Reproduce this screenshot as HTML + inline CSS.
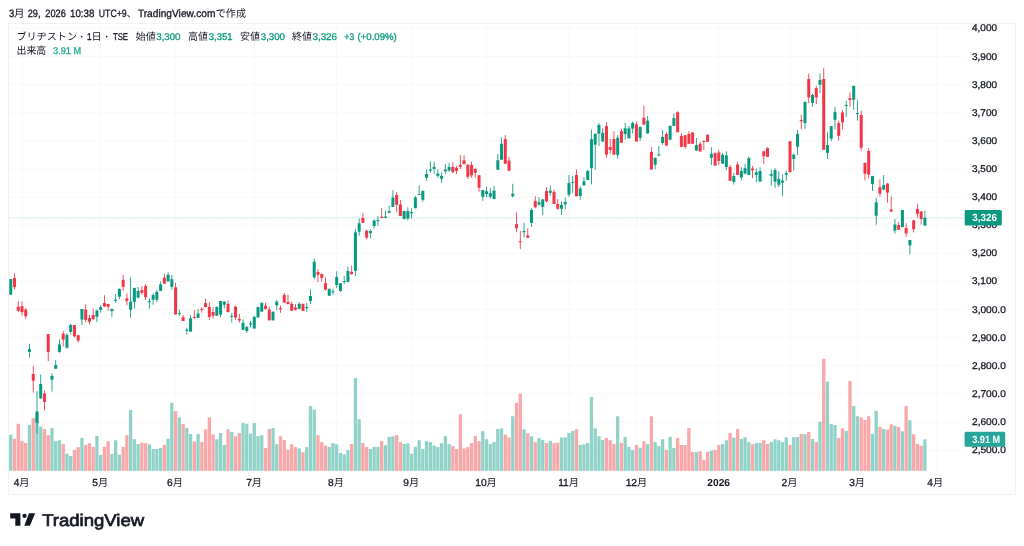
<!DOCTYPE html>
<html lang="ja"><head><meta charset="utf-8"><title>ブリヂストン チャート</title>
<style>
html,body{margin:0;padding:0;background:#fff;}
body{width:1024px;height:546px;overflow:hidden;position:relative;font-family:"Liberation Sans","Noto Sans CJK JP",sans-serif;color:#131722;}
svg{position:absolute;left:0;top:0;will-change:transform;}
text{font-family:"Liberation Sans","Noto Sans CJK JP",sans-serif;stroke-width:0.3px;text-rendering:geometricPrecision;}
</style></head><body>
<svg width="1024" height="546" viewBox="0 0 1024 546">
<rect x="0" y="0" width="1024" height="546" fill="#fff"/>
<rect x="8.5" y="23.5" width="1007" height="471" fill="none" stroke="#f2f2f4" stroke-width="1"/>
<g stroke="#f8f8f9" stroke-width="1" fill="none"><path d="M9 450.20H964"/><path d="M9 422.09H964"/><path d="M9 393.98H964"/><path d="M9 365.87H964"/><path d="M9 337.76H964"/><path d="M9 309.65H964"/><path d="M9 281.54H964"/><path d="M9 253.43H964"/><path d="M9 225.32H964"/><path d="M9 197.21H964"/><path d="M9 169.10H964"/><path d="M9 140.99H964"/><path d="M9 112.88H964"/><path d="M9 84.77H964"/><path d="M9 56.66H964"/><path d="M9 28.55H964"/><path d="M22.50 24V470"/><path d="M100.60 24V470"/><path d="M175.30 24V470"/><path d="M254.20 24V470"/><path d="M336.40 24V470"/><path d="M411.75 24V470"/><path d="M486.50 24V470"/><path d="M569.30 24V470"/><path d="M636.90 24V470"/><path d="M718.50 24V470"/><path d="M790.40 24V470"/><path d="M857.40 24V470"/><path d="M936.90 24V470"/></g>
<g><rect x="9.10" y="434.62" width="3.3" height="36.18" fill="#90d2c7"/><rect x="12.85" y="438.75" width="3.3" height="32.05" fill="#f9a7a9"/><rect x="16.59" y="423.75" width="3.3" height="47.05" fill="#f9a7a9"/><rect x="20.34" y="440.88" width="3.3" height="29.93" fill="#f9a7a9"/><rect x="24.09" y="443.00" width="3.3" height="27.80" fill="#f9a7a9"/><rect x="27.83" y="424.88" width="3.3" height="45.93" fill="#90d2c7"/><rect x="31.58" y="418.00" width="3.3" height="52.80" fill="#f9a7a9"/><rect x="35.33" y="414.00" width="3.3" height="56.80" fill="#90d2c7"/><rect x="39.07" y="426.75" width="3.3" height="44.05" fill="#90d2c7"/><rect x="42.82" y="429.00" width="3.3" height="41.80" fill="#f9a7a9"/><rect x="46.57" y="435.25" width="3.3" height="35.55" fill="#f9a7a9"/><rect x="50.31" y="428.12" width="3.3" height="42.68" fill="#90d2c7"/><rect x="54.06" y="441.12" width="3.3" height="29.68" fill="#90d2c7"/><rect x="57.80" y="440.25" width="3.3" height="30.55" fill="#90d2c7"/><rect x="61.55" y="444.00" width="3.3" height="26.80" fill="#f9a7a9"/><rect x="65.30" y="453.62" width="3.3" height="17.18" fill="#90d2c7"/><rect x="69.04" y="455.88" width="3.3" height="14.93" fill="#90d2c7"/><rect x="72.79" y="450.00" width="3.3" height="20.80" fill="#f9a7a9"/><rect x="76.54" y="447.12" width="3.3" height="23.68" fill="#f9a7a9"/><rect x="80.28" y="438.00" width="3.3" height="32.80" fill="#90d2c7"/><rect x="84.03" y="445.00" width="3.3" height="25.80" fill="#f9a7a9"/><rect x="87.78" y="443.12" width="3.3" height="27.68" fill="#f9a7a9"/><rect x="91.52" y="446.88" width="3.3" height="23.93" fill="#f9a7a9"/><rect x="95.27" y="435.88" width="3.3" height="34.93" fill="#90d2c7"/><rect x="99.02" y="455.00" width="3.3" height="15.80" fill="#90d2c7"/><rect x="102.76" y="446.88" width="3.3" height="23.93" fill="#f9a7a9"/><rect x="106.51" y="441.25" width="3.3" height="29.55" fill="#f9a7a9"/><rect x="110.26" y="454.00" width="3.3" height="16.80" fill="#90d2c7"/><rect x="114.00" y="440.25" width="3.3" height="30.55" fill="#90d2c7"/><rect x="117.75" y="454.62" width="3.3" height="16.18" fill="#90d2c7"/><rect x="121.50" y="446.88" width="3.3" height="23.93" fill="#f9a7a9"/><rect x="125.24" y="435.25" width="3.3" height="35.55" fill="#f9a7a9"/><rect x="128.99" y="409.88" width="3.3" height="60.93" fill="#90d2c7"/><rect x="132.73" y="439.25" width="3.3" height="31.55" fill="#90d2c7"/><rect x="136.48" y="444.00" width="3.3" height="26.80" fill="#90d2c7"/><rect x="140.23" y="442.75" width="3.3" height="28.05" fill="#f9a7a9"/><rect x="143.97" y="443.12" width="3.3" height="27.68" fill="#f9a7a9"/><rect x="147.72" y="444.25" width="3.3" height="26.55" fill="#90d2c7"/><rect x="151.47" y="449.00" width="3.3" height="21.80" fill="#90d2c7"/><rect x="155.21" y="449.00" width="3.3" height="21.80" fill="#90d2c7"/><rect x="158.96" y="448.12" width="3.3" height="22.68" fill="#90d2c7"/><rect x="162.71" y="445.00" width="3.3" height="25.80" fill="#f9a7a9"/><rect x="166.45" y="438.75" width="3.3" height="32.05" fill="#90d2c7"/><rect x="170.20" y="402.75" width="3.3" height="68.05" fill="#90d2c7"/><rect x="173.95" y="411.12" width="3.3" height="59.68" fill="#f9a7a9"/><rect x="177.69" y="417.38" width="3.3" height="53.43" fill="#90d2c7"/><rect x="181.44" y="424.00" width="3.3" height="46.80" fill="#f9a7a9"/><rect x="185.19" y="428.12" width="3.3" height="42.68" fill="#90d2c7"/><rect x="188.93" y="434.00" width="3.3" height="36.80" fill="#90d2c7"/><rect x="192.68" y="441.50" width="3.3" height="29.30" fill="#f9a7a9"/><rect x="196.43" y="434.00" width="3.3" height="36.80" fill="#90d2c7"/><rect x="200.17" y="442.12" width="3.3" height="28.68" fill="#f9a7a9"/><rect x="203.92" y="429.38" width="3.3" height="41.43" fill="#f9a7a9"/><rect x="207.66" y="417.38" width="3.3" height="53.43" fill="#f9a7a9"/><rect x="211.41" y="434.62" width="3.3" height="36.18" fill="#f9a7a9"/><rect x="215.16" y="439.25" width="3.3" height="31.55" fill="#90d2c7"/><rect x="218.90" y="433.00" width="3.3" height="37.80" fill="#90d2c7"/><rect x="222.65" y="445.00" width="3.3" height="25.80" fill="#90d2c7"/><rect x="226.40" y="429.38" width="3.3" height="41.43" fill="#f9a7a9"/><rect x="230.14" y="431.88" width="3.3" height="38.93" fill="#90d2c7"/><rect x="233.89" y="436.25" width="3.3" height="34.55" fill="#f9a7a9"/><rect x="237.64" y="433.00" width="3.3" height="37.80" fill="#f9a7a9"/><rect x="241.38" y="422.75" width="3.3" height="48.05" fill="#90d2c7"/><rect x="245.13" y="423.75" width="3.3" height="47.05" fill="#90d2c7"/><rect x="248.88" y="433.62" width="3.3" height="37.18" fill="#90d2c7"/><rect x="252.62" y="423.12" width="3.3" height="47.68" fill="#90d2c7"/><rect x="256.37" y="436.12" width="3.3" height="34.68" fill="#90d2c7"/><rect x="260.12" y="435.25" width="3.3" height="35.55" fill="#90d2c7"/><rect x="263.86" y="448.00" width="3.3" height="22.80" fill="#f9a7a9"/><rect x="267.61" y="429.00" width="3.3" height="41.80" fill="#f9a7a9"/><rect x="271.36" y="428.12" width="3.3" height="42.68" fill="#90d2c7"/><rect x="275.10" y="444.25" width="3.3" height="26.55" fill="#90d2c7"/><rect x="278.85" y="436.25" width="3.3" height="34.55" fill="#f9a7a9"/><rect x="282.59" y="440.00" width="3.3" height="30.80" fill="#f9a7a9"/><rect x="286.34" y="449.62" width="3.3" height="21.18" fill="#f9a7a9"/><rect x="290.09" y="444.25" width="3.3" height="26.55" fill="#f9a7a9"/><rect x="293.83" y="447.12" width="3.3" height="23.68" fill="#f9a7a9"/><rect x="297.58" y="448.38" width="3.3" height="22.43" fill="#90d2c7"/><rect x="301.33" y="452.12" width="3.3" height="18.68" fill="#f9a7a9"/><rect x="305.07" y="447.12" width="3.3" height="23.68" fill="#90d2c7"/><rect x="308.82" y="406.12" width="3.3" height="64.68" fill="#90d2c7"/><rect x="312.57" y="409.62" width="3.3" height="61.18" fill="#90d2c7"/><rect x="316.31" y="435.25" width="3.3" height="35.55" fill="#f9a7a9"/><rect x="320.06" y="442.12" width="3.3" height="28.68" fill="#f9a7a9"/><rect x="323.81" y="445.50" width="3.3" height="25.30" fill="#f9a7a9"/><rect x="327.55" y="447.12" width="3.3" height="23.68" fill="#90d2c7"/><rect x="331.30" y="443.12" width="3.3" height="27.68" fill="#90d2c7"/><rect x="335.05" y="444.25" width="3.3" height="26.55" fill="#90d2c7"/><rect x="338.79" y="453.00" width="3.3" height="17.80" fill="#90d2c7"/><rect x="342.54" y="454.25" width="3.3" height="16.55" fill="#90d2c7"/><rect x="346.29" y="450.00" width="3.3" height="20.80" fill="#90d2c7"/><rect x="350.03" y="444.00" width="3.3" height="26.80" fill="#f9a7a9"/><rect x="353.78" y="378.00" width="3.3" height="92.80" fill="#90d2c7"/><rect x="357.52" y="419.25" width="3.3" height="51.55" fill="#90d2c7"/><rect x="361.27" y="443.00" width="3.3" height="27.80" fill="#f9a7a9"/><rect x="365.02" y="446.88" width="3.3" height="23.93" fill="#f9a7a9"/><rect x="368.76" y="449.00" width="3.3" height="21.80" fill="#90d2c7"/><rect x="372.51" y="446.88" width="3.3" height="23.93" fill="#90d2c7"/><rect x="376.26" y="446.88" width="3.3" height="23.93" fill="#90d2c7"/><rect x="380.00" y="441.12" width="3.3" height="29.68" fill="#f9a7a9"/><rect x="383.75" y="445.25" width="3.3" height="25.55" fill="#90d2c7"/><rect x="387.50" y="436.88" width="3.3" height="33.93" fill="#90d2c7"/><rect x="391.24" y="436.25" width="3.3" height="34.55" fill="#90d2c7"/><rect x="394.99" y="435.25" width="3.3" height="35.55" fill="#f9a7a9"/><rect x="398.74" y="442.12" width="3.3" height="28.68" fill="#f9a7a9"/><rect x="402.48" y="444.00" width="3.3" height="26.80" fill="#90d2c7"/><rect x="406.23" y="443.38" width="3.3" height="27.43" fill="#90d2c7"/><rect x="409.98" y="453.75" width="3.3" height="17.05" fill="#90d2c7"/><rect x="413.72" y="446.88" width="3.3" height="23.93" fill="#90d2c7"/><rect x="417.47" y="440.25" width="3.3" height="30.55" fill="#90d2c7"/><rect x="421.22" y="449.00" width="3.3" height="21.80" fill="#90d2c7"/><rect x="424.96" y="441.12" width="3.3" height="29.68" fill="#90d2c7"/><rect x="428.71" y="442.12" width="3.3" height="28.68" fill="#90d2c7"/><rect x="432.45" y="445.50" width="3.3" height="25.30" fill="#90d2c7"/><rect x="436.20" y="447.12" width="3.3" height="23.68" fill="#90d2c7"/><rect x="439.95" y="443.12" width="3.3" height="27.68" fill="#90d2c7"/><rect x="443.69" y="436.25" width="3.3" height="34.55" fill="#90d2c7"/><rect x="447.44" y="444.00" width="3.3" height="26.80" fill="#90d2c7"/><rect x="451.19" y="446.12" width="3.3" height="24.68" fill="#f9a7a9"/><rect x="454.93" y="449.00" width="3.3" height="21.80" fill="#f9a7a9"/><rect x="458.68" y="414.25" width="3.3" height="56.55" fill="#f9a7a9"/><rect x="462.43" y="448.38" width="3.3" height="22.43" fill="#f9a7a9"/><rect x="466.17" y="447.12" width="3.3" height="23.68" fill="#f9a7a9"/><rect x="469.92" y="443.00" width="3.3" height="27.80" fill="#f9a7a9"/><rect x="473.67" y="435.88" width="3.3" height="34.93" fill="#f9a7a9"/><rect x="477.41" y="441.12" width="3.3" height="29.68" fill="#f9a7a9"/><rect x="481.16" y="431.12" width="3.3" height="39.68" fill="#90d2c7"/><rect x="484.91" y="439.25" width="3.3" height="31.55" fill="#90d2c7"/><rect x="488.65" y="444.00" width="3.3" height="26.80" fill="#90d2c7"/><rect x="492.40" y="442.12" width="3.3" height="28.68" fill="#90d2c7"/><rect x="496.15" y="429.00" width="3.3" height="41.80" fill="#90d2c7"/><rect x="499.89" y="428.38" width="3.3" height="42.43" fill="#90d2c7"/><rect x="503.64" y="434.62" width="3.3" height="36.18" fill="#f9a7a9"/><rect x="507.38" y="437.50" width="3.3" height="33.30" fill="#f9a7a9"/><rect x="511.13" y="416.25" width="3.3" height="54.55" fill="#90d2c7"/><rect x="514.88" y="402.88" width="3.3" height="67.93" fill="#f9a7a9"/><rect x="518.62" y="393.50" width="3.3" height="77.30" fill="#f9a7a9"/><rect x="522.37" y="429.38" width="3.3" height="41.43" fill="#90d2c7"/><rect x="526.12" y="433.38" width="3.3" height="37.43" fill="#f9a7a9"/><rect x="529.86" y="436.25" width="3.3" height="34.55" fill="#90d2c7"/><rect x="533.61" y="442.12" width="3.3" height="28.68" fill="#f9a7a9"/><rect x="537.36" y="438.00" width="3.3" height="32.80" fill="#90d2c7"/><rect x="541.10" y="440.00" width="3.3" height="30.80" fill="#90d2c7"/><rect x="544.85" y="443.00" width="3.3" height="27.80" fill="#f9a7a9"/><rect x="548.60" y="440.88" width="3.3" height="29.93" fill="#90d2c7"/><rect x="552.34" y="443.12" width="3.3" height="27.68" fill="#f9a7a9"/><rect x="556.09" y="442.75" width="3.3" height="28.05" fill="#f9a7a9"/><rect x="559.84" y="437.50" width="3.3" height="33.30" fill="#90d2c7"/><rect x="563.58" y="437.50" width="3.3" height="33.30" fill="#90d2c7"/><rect x="567.33" y="433.00" width="3.3" height="37.80" fill="#90d2c7"/><rect x="571.08" y="430.88" width="3.3" height="39.93" fill="#90d2c7"/><rect x="574.82" y="429.38" width="3.3" height="41.43" fill="#f9a7a9"/><rect x="578.57" y="445.00" width="3.3" height="25.80" fill="#90d2c7"/><rect x="582.31" y="444.25" width="3.3" height="26.55" fill="#90d2c7"/><rect x="586.06" y="443.00" width="3.3" height="27.80" fill="#90d2c7"/><rect x="589.81" y="396.88" width="3.3" height="73.93" fill="#90d2c7"/><rect x="593.55" y="428.38" width="3.3" height="42.43" fill="#90d2c7"/><rect x="597.30" y="436.25" width="3.3" height="34.55" fill="#90d2c7"/><rect x="601.05" y="440.00" width="3.3" height="30.80" fill="#90d2c7"/><rect x="604.79" y="438.00" width="3.3" height="32.80" fill="#f9a7a9"/><rect x="608.54" y="440.25" width="3.3" height="30.55" fill="#f9a7a9"/><rect x="612.29" y="444.00" width="3.3" height="26.80" fill="#f9a7a9"/><rect x="616.03" y="416.25" width="3.3" height="54.55" fill="#90d2c7"/><rect x="619.78" y="443.00" width="3.3" height="27.80" fill="#f9a7a9"/><rect x="623.53" y="436.88" width="3.3" height="33.93" fill="#90d2c7"/><rect x="627.27" y="446.88" width="3.3" height="23.93" fill="#90d2c7"/><rect x="631.02" y="450.00" width="3.3" height="20.80" fill="#90d2c7"/><rect x="634.77" y="445.00" width="3.3" height="25.80" fill="#f9a7a9"/><rect x="638.51" y="447.75" width="3.3" height="23.05" fill="#90d2c7"/><rect x="642.26" y="441.25" width="3.3" height="29.55" fill="#f9a7a9"/><rect x="646.00" y="444.25" width="3.3" height="26.55" fill="#90d2c7"/><rect x="649.75" y="416.25" width="3.3" height="54.55" fill="#f9a7a9"/><rect x="653.50" y="442.12" width="3.3" height="28.68" fill="#90d2c7"/><rect x="657.24" y="446.12" width="3.3" height="24.68" fill="#90d2c7"/><rect x="660.99" y="439.25" width="3.3" height="31.55" fill="#90d2c7"/><rect x="664.74" y="450.00" width="3.3" height="20.80" fill="#f9a7a9"/><rect x="668.48" y="436.88" width="3.3" height="33.93" fill="#90d2c7"/><rect x="672.23" y="448.00" width="3.3" height="22.80" fill="#90d2c7"/><rect x="675.98" y="438.00" width="3.3" height="32.80" fill="#f9a7a9"/><rect x="679.72" y="445.00" width="3.3" height="25.80" fill="#f9a7a9"/><rect x="683.47" y="445.00" width="3.3" height="25.80" fill="#f9a7a9"/><rect x="687.22" y="428.12" width="3.3" height="42.68" fill="#f9a7a9"/><rect x="690.96" y="451.88" width="3.3" height="18.93" fill="#f9a7a9"/><rect x="694.71" y="452.12" width="3.3" height="18.68" fill="#90d2c7"/><rect x="698.46" y="451.25" width="3.3" height="19.55" fill="#f9a7a9"/><rect x="702.20" y="460.00" width="3.3" height="10.80" fill="#f9a7a9"/><rect x="705.95" y="451.88" width="3.3" height="18.93" fill="#f9a7a9"/><rect x="709.70" y="450.62" width="3.3" height="20.18" fill="#90d2c7"/><rect x="713.44" y="450.00" width="3.3" height="20.80" fill="#f9a7a9"/><rect x="717.19" y="445.00" width="3.3" height="25.80" fill="#f9a7a9"/><rect x="720.94" y="444.00" width="3.3" height="26.80" fill="#90d2c7"/><rect x="724.68" y="440.25" width="3.3" height="30.55" fill="#90d2c7"/><rect x="728.43" y="433.00" width="3.3" height="37.80" fill="#f9a7a9"/><rect x="732.17" y="437.50" width="3.3" height="33.30" fill="#90d2c7"/><rect x="735.92" y="429.00" width="3.3" height="41.80" fill="#f9a7a9"/><rect x="739.67" y="439.00" width="3.3" height="31.80" fill="#90d2c7"/><rect x="743.41" y="437.38" width="3.3" height="33.43" fill="#90d2c7"/><rect x="747.16" y="442.12" width="3.3" height="28.68" fill="#90d2c7"/><rect x="750.91" y="444.25" width="3.3" height="26.55" fill="#f9a7a9"/><rect x="754.65" y="443.12" width="3.3" height="27.68" fill="#90d2c7"/><rect x="758.40" y="443.00" width="3.3" height="27.80" fill="#90d2c7"/><rect x="762.15" y="440.25" width="3.3" height="30.55" fill="#f9a7a9"/><rect x="765.89" y="444.00" width="3.3" height="26.80" fill="#f9a7a9"/><rect x="769.64" y="442.12" width="3.3" height="28.68" fill="#90d2c7"/><rect x="773.39" y="439.25" width="3.3" height="31.55" fill="#90d2c7"/><rect x="777.13" y="440.25" width="3.3" height="30.55" fill="#90d2c7"/><rect x="780.88" y="442.12" width="3.3" height="28.68" fill="#90d2c7"/><rect x="784.63" y="437.50" width="3.3" height="33.30" fill="#90d2c7"/><rect x="788.37" y="445.00" width="3.3" height="25.80" fill="#f9a7a9"/><rect x="792.12" y="437.12" width="3.3" height="33.68" fill="#90d2c7"/><rect x="795.87" y="437.12" width="3.3" height="33.68" fill="#90d2c7"/><rect x="799.61" y="434.00" width="3.3" height="36.80" fill="#f9a7a9"/><rect x="803.36" y="434.00" width="3.3" height="36.80" fill="#90d2c7"/><rect x="807.10" y="431.88" width="3.3" height="38.93" fill="#f9a7a9"/><rect x="810.85" y="439.00" width="3.3" height="31.80" fill="#90d2c7"/><rect x="814.60" y="442.12" width="3.3" height="28.68" fill="#f9a7a9"/><rect x="818.34" y="421.75" width="3.3" height="49.05" fill="#90d2c7"/><rect x="822.09" y="358.88" width="3.3" height="111.93" fill="#f9a7a9"/><rect x="825.84" y="381.62" width="3.3" height="89.18" fill="#90d2c7"/><rect x="829.58" y="424.00" width="3.3" height="46.80" fill="#90d2c7"/><rect x="833.33" y="425.00" width="3.3" height="45.80" fill="#90d2c7"/><rect x="837.08" y="438.00" width="3.3" height="32.80" fill="#f9a7a9"/><rect x="840.82" y="428.38" width="3.3" height="42.43" fill="#f9a7a9"/><rect x="844.57" y="430.88" width="3.3" height="39.93" fill="#90d2c7"/><rect x="848.32" y="381.00" width="3.3" height="89.80" fill="#f9a7a9"/><rect x="852.06" y="406.12" width="3.3" height="64.68" fill="#90d2c7"/><rect x="855.81" y="416.25" width="3.3" height="54.55" fill="#90d2c7"/><rect x="859.56" y="417.50" width="3.3" height="53.30" fill="#f9a7a9"/><rect x="863.30" y="420.00" width="3.3" height="50.80" fill="#f9a7a9"/><rect x="867.05" y="416.25" width="3.3" height="54.55" fill="#f9a7a9"/><rect x="870.80" y="434.00" width="3.3" height="36.80" fill="#90d2c7"/><rect x="874.54" y="410.88" width="3.3" height="59.93" fill="#90d2c7"/><rect x="878.29" y="426.88" width="3.3" height="43.93" fill="#f9a7a9"/><rect x="882.03" y="429.00" width="3.3" height="41.80" fill="#90d2c7"/><rect x="885.78" y="429.62" width="3.3" height="41.18" fill="#f9a7a9"/><rect x="889.53" y="424.25" width="3.3" height="46.55" fill="#f9a7a9"/><rect x="893.27" y="425.88" width="3.3" height="44.93" fill="#90d2c7"/><rect x="897.02" y="426.88" width="3.3" height="43.93" fill="#f9a7a9"/><rect x="900.77" y="431.25" width="3.3" height="39.55" fill="#90d2c7"/><rect x="904.51" y="406.12" width="3.3" height="64.68" fill="#f9a7a9"/><rect x="908.26" y="420.25" width="3.3" height="50.55" fill="#90d2c7"/><rect x="912.01" y="434.25" width="3.3" height="36.55" fill="#f9a7a9"/><rect x="915.75" y="444.00" width="3.3" height="26.80" fill="#f9a7a9"/><rect x="919.50" y="445.62" width="3.3" height="25.18" fill="#f9a7a9"/><rect x="923.25" y="439.38" width="3.3" height="31.43" fill="#90d2c7"/></g>
<g><rect x="10.32" y="279.00" width="0.85" height="15.62" fill="#089981"/><rect x="9.25" y="279.00" width="3.0" height="15.62" fill="#089981"/><rect x="14.07" y="273.38" width="0.85" height="16.25" fill="#f23645"/><rect x="13.00" y="278.00" width="3.0" height="9.12" fill="#f23645"/><rect x="17.82" y="301.12" width="0.85" height="11.00" fill="#f23645"/><rect x="16.74" y="306.75" width="3.0" height="4.12" fill="#f23645"/><rect x="21.56" y="301.50" width="0.85" height="14.00" fill="#f23645"/><rect x="20.49" y="306.12" width="3.0" height="6.00" fill="#f23645"/><rect x="25.31" y="308.00" width="0.85" height="10.75" fill="#f23645"/><rect x="24.24" y="309.62" width="3.0" height="6.62" fill="#f23645"/><rect x="29.06" y="343.75" width="0.85" height="13.75" fill="#089981"/><rect x="27.98" y="349.00" width="3.0" height="2.88" fill="#089981"/><rect x="32.80" y="366.00" width="0.85" height="26.62" fill="#f23645"/><rect x="31.73" y="374.00" width="3.0" height="6.75" fill="#f23645"/><rect x="36.55" y="391.00" width="0.85" height="42.75" fill="#089981"/><rect x="35.48" y="411.38" width="3.0" height="11.50" fill="#089981"/><rect x="40.30" y="374.62" width="0.85" height="23.88" fill="#089981"/><rect x="39.22" y="384.00" width="3.0" height="14.50" fill="#089981"/><rect x="44.04" y="390.75" width="0.85" height="19.88" fill="#f23645"/><rect x="42.97" y="393.50" width="3.0" height="8.38" fill="#f23645"/><rect x="47.79" y="334.00" width="0.85" height="27.25" fill="#f23645"/><rect x="46.72" y="334.00" width="3.0" height="18.12" fill="#f23645"/><rect x="51.54" y="373.12" width="0.85" height="18.50" fill="#089981"/><rect x="50.46" y="375.88" width="3.0" height="3.88" fill="#089981"/><rect x="55.28" y="360.00" width="0.85" height="8.75" fill="#089981"/><rect x="54.21" y="365.00" width="3.0" height="3.75" fill="#089981"/><rect x="59.03" y="339.38" width="0.85" height="13.38" fill="#089981"/><rect x="57.95" y="344.38" width="3.0" height="7.50" fill="#089981"/><rect x="62.78" y="331.00" width="0.85" height="15.50" fill="#f23645"/><rect x="61.70" y="333.75" width="3.0" height="5.88" fill="#f23645"/><rect x="66.52" y="333.12" width="0.85" height="15.38" fill="#089981"/><rect x="65.45" y="335.00" width="3.0" height="12.75" fill="#089981"/><rect x="70.27" y="323.75" width="0.85" height="11.00" fill="#089981"/><rect x="69.19" y="325.00" width="3.0" height="6.88" fill="#089981"/><rect x="74.02" y="325.00" width="0.85" height="12.50" fill="#f23645"/><rect x="72.94" y="325.00" width="3.0" height="11.25" fill="#f23645"/><rect x="77.76" y="335.00" width="0.85" height="7.50" fill="#f23645"/><rect x="76.69" y="335.25" width="3.0" height="5.38" fill="#f23645"/><rect x="81.51" y="309.00" width="0.85" height="15.88" fill="#089981"/><rect x="80.43" y="309.00" width="3.0" height="10.62" fill="#089981"/><rect x="85.26" y="304.25" width="0.85" height="17.88" fill="#f23645"/><rect x="84.18" y="309.62" width="3.0" height="10.25" fill="#f23645"/><rect x="89.00" y="314.88" width="0.85" height="9.38" fill="#f23645"/><rect x="87.93" y="318.00" width="3.0" height="3.75" fill="#f23645"/><rect x="92.75" y="308.38" width="0.85" height="11.50" fill="#f23645"/><rect x="91.67" y="314.88" width="3.0" height="4.12" fill="#f23645"/><rect x="96.49" y="309.62" width="0.85" height="12.50" fill="#089981"/><rect x="95.42" y="310.50" width="3.0" height="6.25" fill="#089981"/><rect x="100.24" y="305.00" width="0.85" height="7.75" fill="#089981"/><rect x="99.17" y="307.12" width="3.0" height="2.75" fill="#089981"/><rect x="103.99" y="295.25" width="0.85" height="11.88" fill="#f23645"/><rect x="102.91" y="303.00" width="3.0" height="3.50" fill="#f23645"/><rect x="107.73" y="303.75" width="0.85" height="7.12" fill="#f23645"/><rect x="106.66" y="304.00" width="3.0" height="2.88" fill="#f23645"/><rect x="111.48" y="308.38" width="0.85" height="8.38" fill="#089981"/><rect x="110.41" y="309.00" width="3.0" height="2.12" fill="#089981"/><rect x="115.23" y="294.00" width="0.85" height="8.75" fill="#089981"/><rect x="114.15" y="299.62" width="3.0" height="1.25" fill="#089981"/><rect x="118.97" y="288.38" width="0.85" height="10.88" fill="#089981"/><rect x="117.90" y="289.00" width="3.0" height="7.75" fill="#089981"/><rect x="122.72" y="275.00" width="0.85" height="15.88" fill="#f23645"/><rect x="121.65" y="279.88" width="3.0" height="6.88" fill="#f23645"/><rect x="126.47" y="293.38" width="0.85" height="11.88" fill="#f23645"/><rect x="125.39" y="298.38" width="3.0" height="2.50" fill="#f23645"/><rect x="130.21" y="277.25" width="0.85" height="40.62" fill="#089981"/><rect x="129.14" y="301.62" width="3.0" height="8.12" fill="#089981"/><rect x="133.96" y="287.88" width="0.85" height="20.62" fill="#089981"/><rect x="132.88" y="287.88" width="3.0" height="14.00" fill="#089981"/><rect x="137.71" y="287.00" width="0.85" height="11.25" fill="#089981"/><rect x="136.63" y="291.00" width="3.0" height="6.62" fill="#089981"/><rect x="141.45" y="286.00" width="0.85" height="8.75" fill="#f23645"/><rect x="140.38" y="290.12" width="3.0" height="2.75" fill="#f23645"/><rect x="145.20" y="284.12" width="0.85" height="15.88" fill="#f23645"/><rect x="144.12" y="286.00" width="3.0" height="11.25" fill="#f23645"/><rect x="148.95" y="298.25" width="0.85" height="10.50" fill="#089981"/><rect x="147.87" y="301.12" width="3.0" height="1.00" fill="#089981"/><rect x="152.69" y="293.50" width="0.85" height="11.25" fill="#089981"/><rect x="151.62" y="295.00" width="3.0" height="4.75" fill="#089981"/><rect x="156.44" y="289.75" width="0.85" height="12.25" fill="#089981"/><rect x="155.36" y="291.88" width="3.0" height="7.88" fill="#089981"/><rect x="160.19" y="281.62" width="0.85" height="9.38" fill="#089981"/><rect x="159.11" y="284.38" width="3.0" height="6.62" fill="#089981"/><rect x="163.93" y="273.75" width="0.85" height="10.00" fill="#f23645"/><rect x="162.86" y="277.62" width="3.0" height="6.12" fill="#f23645"/><rect x="167.68" y="272.25" width="0.85" height="9.38" fill="#089981"/><rect x="166.60" y="274.75" width="3.0" height="6.62" fill="#089981"/><rect x="171.42" y="275.00" width="0.85" height="14.75" fill="#089981"/><rect x="170.35" y="279.12" width="3.0" height="7.75" fill="#089981"/><rect x="175.17" y="282.88" width="0.85" height="31.62" fill="#f23645"/><rect x="174.10" y="287.25" width="3.0" height="27.25" fill="#f23645"/><rect x="178.92" y="309.75" width="0.85" height="6.25" fill="#089981"/><rect x="177.84" y="312.94" width="3.0" height="1.00" fill="#089981"/><rect x="182.66" y="315.00" width="0.85" height="6.00" fill="#f23645"/><rect x="181.59" y="317.25" width="3.0" height="3.75" fill="#f23645"/><rect x="186.41" y="327.88" width="0.85" height="6.88" fill="#089981"/><rect x="185.34" y="329.75" width="3.0" height="1.25" fill="#089981"/><rect x="190.16" y="315.38" width="0.85" height="16.25" fill="#089981"/><rect x="189.08" y="318.25" width="3.0" height="13.38" fill="#089981"/><rect x="193.90" y="310.00" width="0.85" height="9.12" fill="#f23645"/><rect x="192.83" y="316.88" width="3.0" height="1.00" fill="#f23645"/><rect x="197.65" y="309.12" width="0.85" height="8.75" fill="#089981"/><rect x="196.58" y="313.50" width="3.0" height="4.38" fill="#089981"/><rect x="201.40" y="307.25" width="0.85" height="5.38" fill="#f23645"/><rect x="200.32" y="308.88" width="3.0" height="1.12" fill="#f23645"/><rect x="205.14" y="298.75" width="0.85" height="8.88" fill="#f23645"/><rect x="204.07" y="303.12" width="3.0" height="3.88" fill="#f23645"/><rect x="208.89" y="302.25" width="0.85" height="17.88" fill="#f23645"/><rect x="207.81" y="306.88" width="3.0" height="10.12" fill="#f23645"/><rect x="212.64" y="307.25" width="0.85" height="11.25" fill="#f23645"/><rect x="211.56" y="312.00" width="3.0" height="3.75" fill="#f23645"/><rect x="216.38" y="306.62" width="0.85" height="9.12" fill="#089981"/><rect x="215.31" y="307.00" width="3.0" height="8.75" fill="#089981"/><rect x="220.13" y="301.00" width="0.85" height="16.00" fill="#089981"/><rect x="219.05" y="301.00" width="3.0" height="13.50" fill="#089981"/><rect x="223.88" y="301.38" width="0.85" height="7.12" fill="#089981"/><rect x="222.80" y="301.62" width="3.0" height="3.12" fill="#089981"/><rect x="227.62" y="300.38" width="0.85" height="12.12" fill="#f23645"/><rect x="226.55" y="303.88" width="3.0" height="8.12" fill="#f23645"/><rect x="231.37" y="313.12" width="0.85" height="9.50" fill="#089981"/><rect x="230.29" y="315.94" width="3.0" height="1.00" fill="#089981"/><rect x="235.12" y="305.62" width="0.85" height="14.50" fill="#f23645"/><rect x="234.04" y="306.62" width="3.0" height="10.88" fill="#f23645"/><rect x="238.86" y="313.75" width="0.85" height="8.88" fill="#f23645"/><rect x="237.79" y="318.88" width="3.0" height="1.50" fill="#f23645"/><rect x="242.61" y="319.38" width="0.85" height="10.62" fill="#089981"/><rect x="241.53" y="322.88" width="3.0" height="6.88" fill="#089981"/><rect x="246.35" y="325.75" width="0.85" height="7.12" fill="#089981"/><rect x="245.28" y="327.00" width="3.0" height="4.00" fill="#089981"/><rect x="250.10" y="321.00" width="0.85" height="6.50" fill="#089981"/><rect x="249.03" y="323.25" width="3.0" height="1.25" fill="#089981"/><rect x="253.85" y="316.00" width="0.85" height="12.50" fill="#089981"/><rect x="252.77" y="316.88" width="3.0" height="11.62" fill="#089981"/><rect x="257.59" y="306.88" width="0.85" height="10.62" fill="#089981"/><rect x="256.52" y="307.00" width="3.0" height="10.50" fill="#089981"/><rect x="261.34" y="302.50" width="0.85" height="9.12" fill="#089981"/><rect x="260.27" y="302.88" width="3.0" height="8.75" fill="#089981"/><rect x="265.09" y="302.88" width="0.85" height="6.88" fill="#f23645"/><rect x="264.01" y="305.75" width="3.0" height="3.12" fill="#f23645"/><rect x="268.83" y="307.25" width="0.85" height="13.12" fill="#f23645"/><rect x="267.76" y="309.50" width="3.0" height="10.88" fill="#f23645"/><rect x="272.58" y="311.25" width="0.85" height="9.12" fill="#089981"/><rect x="271.50" y="311.88" width="3.0" height="8.50" fill="#089981"/><rect x="276.33" y="300.00" width="0.85" height="9.75" fill="#089981"/><rect x="275.25" y="301.62" width="3.0" height="3.75" fill="#089981"/><rect x="280.07" y="305.38" width="0.85" height="7.50" fill="#f23645"/><rect x="279.00" y="308.12" width="3.0" height="1.25" fill="#f23645"/><rect x="283.82" y="292.88" width="0.85" height="9.75" fill="#f23645"/><rect x="282.74" y="295.00" width="3.0" height="7.62" fill="#f23645"/><rect x="287.57" y="294.75" width="0.85" height="9.38" fill="#f23645"/><rect x="286.49" y="301.88" width="3.0" height="2.25" fill="#f23645"/><rect x="291.31" y="301.62" width="0.85" height="9.12" fill="#f23645"/><rect x="290.24" y="303.88" width="3.0" height="6.88" fill="#f23645"/><rect x="295.06" y="304.12" width="0.85" height="6.50" fill="#f23645"/><rect x="293.98" y="307.50" width="3.0" height="2.25" fill="#f23645"/><rect x="298.81" y="302.25" width="0.85" height="7.12" fill="#089981"/><rect x="297.73" y="303.88" width="3.0" height="5.00" fill="#089981"/><rect x="302.55" y="303.50" width="0.85" height="7.50" fill="#f23645"/><rect x="301.48" y="303.88" width="3.0" height="7.12" fill="#f23645"/><rect x="306.30" y="303.12" width="0.85" height="8.50" fill="#089981"/><rect x="305.22" y="307.00" width="3.0" height="1.25" fill="#089981"/><rect x="310.05" y="289.12" width="0.85" height="14.75" fill="#089981"/><rect x="308.97" y="296.00" width="3.0" height="5.00" fill="#089981"/><rect x="313.79" y="258.50" width="0.85" height="20.62" fill="#089981"/><rect x="312.72" y="261.75" width="3.0" height="15.50" fill="#089981"/><rect x="317.54" y="269.12" width="0.85" height="12.88" fill="#f23645"/><rect x="316.46" y="272.00" width="3.0" height="2.75" fill="#f23645"/><rect x="321.28" y="273.50" width="0.85" height="8.12" fill="#f23645"/><rect x="320.21" y="274.12" width="3.0" height="3.75" fill="#f23645"/><rect x="325.03" y="277.62" width="0.85" height="13.00" fill="#f23645"/><rect x="323.96" y="283.12" width="3.0" height="6.62" fill="#f23645"/><rect x="328.78" y="288.50" width="0.85" height="7.25" fill="#089981"/><rect x="327.70" y="288.88" width="3.0" height="6.88" fill="#089981"/><rect x="332.52" y="288.88" width="0.85" height="5.88" fill="#089981"/><rect x="331.45" y="291.31" width="3.0" height="1.00" fill="#089981"/><rect x="336.27" y="271.25" width="0.85" height="16.62" fill="#089981"/><rect x="335.20" y="277.00" width="3.0" height="8.00" fill="#089981"/><rect x="340.02" y="283.12" width="0.85" height="8.75" fill="#089981"/><rect x="338.94" y="283.25" width="3.0" height="7.75" fill="#089981"/><rect x="343.76" y="276.00" width="0.85" height="8.12" fill="#089981"/><rect x="342.69" y="281.00" width="3.0" height="1.00" fill="#089981"/><rect x="347.51" y="266.62" width="0.85" height="15.62" fill="#089981"/><rect x="346.44" y="271.00" width="3.0" height="10.88" fill="#089981"/><rect x="351.26" y="265.50" width="0.85" height="9.25" fill="#f23645"/><rect x="350.18" y="271.88" width="3.0" height="2.25" fill="#f23645"/><rect x="355.00" y="228.88" width="0.85" height="47.12" fill="#089981"/><rect x="353.93" y="232.38" width="3.0" height="38.38" fill="#089981"/><rect x="358.75" y="218.25" width="0.85" height="17.50" fill="#089981"/><rect x="357.67" y="223.25" width="3.0" height="8.50" fill="#089981"/><rect x="362.50" y="213.00" width="0.85" height="9.88" fill="#f23645"/><rect x="361.42" y="217.88" width="3.0" height="5.00" fill="#f23645"/><rect x="366.24" y="229.75" width="0.85" height="9.75" fill="#f23645"/><rect x="365.17" y="230.75" width="3.0" height="6.88" fill="#f23645"/><rect x="369.99" y="229.50" width="0.85" height="8.75" fill="#089981"/><rect x="368.91" y="231.00" width="3.0" height="2.25" fill="#089981"/><rect x="373.74" y="219.50" width="0.85" height="9.00" fill="#089981"/><rect x="372.66" y="220.50" width="3.0" height="5.50" fill="#089981"/><rect x="377.48" y="216.00" width="0.85" height="9.75" fill="#089981"/><rect x="376.41" y="220.12" width="3.0" height="1.00" fill="#089981"/><rect x="381.23" y="208.25" width="0.85" height="9.75" fill="#f23645"/><rect x="380.15" y="216.75" width="3.0" height="1.25" fill="#f23645"/><rect x="384.98" y="210.75" width="0.85" height="7.12" fill="#089981"/><rect x="383.90" y="216.62" width="3.0" height="1.25" fill="#089981"/><rect x="388.72" y="205.75" width="0.85" height="7.12" fill="#089981"/><rect x="387.65" y="211.25" width="3.0" height="1.62" fill="#089981"/><rect x="392.47" y="190.25" width="0.85" height="16.75" fill="#089981"/><rect x="391.39" y="197.50" width="3.0" height="9.50" fill="#089981"/><rect x="396.21" y="192.12" width="0.85" height="19.75" fill="#f23645"/><rect x="395.14" y="195.00" width="3.0" height="9.75" fill="#f23645"/><rect x="399.96" y="200.00" width="0.85" height="16.00" fill="#f23645"/><rect x="398.89" y="204.50" width="3.0" height="11.50" fill="#f23645"/><rect x="403.71" y="211.00" width="0.85" height="8.12" fill="#089981"/><rect x="402.63" y="211.00" width="3.0" height="8.12" fill="#089981"/><rect x="407.45" y="207.25" width="0.85" height="13.12" fill="#089981"/><rect x="406.38" y="211.00" width="3.0" height="7.50" fill="#089981"/><rect x="411.20" y="208.25" width="0.85" height="10.25" fill="#089981"/><rect x="410.13" y="212.00" width="3.0" height="1.25" fill="#089981"/><rect x="414.95" y="196.00" width="0.85" height="12.25" fill="#089981"/><rect x="413.87" y="197.50" width="3.0" height="10.75" fill="#089981"/><rect x="418.69" y="185.25" width="0.85" height="9.75" fill="#089981"/><rect x="417.62" y="194.00" width="3.0" height="1.00" fill="#089981"/><rect x="422.44" y="190.62" width="0.85" height="11.25" fill="#089981"/><rect x="421.37" y="190.88" width="3.0" height="8.88" fill="#089981"/><rect x="426.19" y="169.38" width="0.85" height="11.50" fill="#089981"/><rect x="425.11" y="174.00" width="3.0" height="3.75" fill="#089981"/><rect x="429.93" y="161.25" width="0.85" height="11.50" fill="#089981"/><rect x="428.86" y="169.38" width="3.0" height="1.25" fill="#089981"/><rect x="433.68" y="161.62" width="0.85" height="12.12" fill="#089981"/><rect x="432.60" y="166.88" width="3.0" height="2.12" fill="#089981"/><rect x="437.43" y="169.38" width="0.85" height="8.38" fill="#089981"/><rect x="436.35" y="173.50" width="3.0" height="2.38" fill="#089981"/><rect x="441.17" y="172.50" width="0.85" height="10.25" fill="#089981"/><rect x="440.10" y="175.88" width="3.0" height="2.88" fill="#089981"/><rect x="444.92" y="164.12" width="0.85" height="9.88" fill="#089981"/><rect x="443.84" y="169.38" width="3.0" height="1.88" fill="#089981"/><rect x="448.67" y="162.88" width="0.85" height="9.00" fill="#089981"/><rect x="447.59" y="166.88" width="3.0" height="3.50" fill="#089981"/><rect x="452.41" y="162.25" width="0.85" height="10.88" fill="#f23645"/><rect x="451.34" y="166.88" width="3.0" height="5.25" fill="#f23645"/><rect x="456.16" y="165.88" width="0.85" height="8.12" fill="#f23645"/><rect x="455.08" y="167.75" width="3.0" height="3.12" fill="#f23645"/><rect x="459.91" y="155.25" width="0.85" height="13.75" fill="#f23645"/><rect x="458.83" y="165.00" width="3.0" height="1.88" fill="#f23645"/><rect x="463.65" y="155.25" width="0.85" height="9.12" fill="#f23645"/><rect x="462.58" y="160.25" width="3.0" height="3.88" fill="#f23645"/><rect x="467.40" y="164.38" width="0.85" height="14.62" fill="#f23645"/><rect x="466.32" y="164.75" width="3.0" height="12.12" fill="#f23645"/><rect x="471.14" y="161.50" width="0.85" height="16.25" fill="#f23645"/><rect x="470.07" y="165.00" width="3.0" height="10.38" fill="#f23645"/><rect x="474.89" y="168.12" width="0.85" height="9.38" fill="#f23645"/><rect x="473.82" y="169.00" width="3.0" height="3.88" fill="#f23645"/><rect x="478.64" y="175.00" width="0.85" height="16.88" fill="#f23645"/><rect x="477.56" y="175.25" width="3.0" height="12.50" fill="#f23645"/><rect x="482.38" y="190.00" width="0.85" height="10.88" fill="#089981"/><rect x="481.31" y="190.00" width="3.0" height="6.88" fill="#089981"/><rect x="486.13" y="186.88" width="0.85" height="10.00" fill="#089981"/><rect x="485.06" y="191.25" width="3.0" height="2.75" fill="#089981"/><rect x="489.88" y="188.12" width="0.85" height="10.62" fill="#089981"/><rect x="488.80" y="193.12" width="3.0" height="3.75" fill="#089981"/><rect x="493.62" y="186.00" width="0.85" height="13.00" fill="#089981"/><rect x="492.55" y="190.62" width="3.0" height="8.38" fill="#089981"/><rect x="497.37" y="154.00" width="0.85" height="15.75" fill="#089981"/><rect x="496.30" y="160.25" width="3.0" height="9.50" fill="#089981"/><rect x="501.12" y="137.50" width="0.85" height="22.25" fill="#089981"/><rect x="500.04" y="143.75" width="3.0" height="16.00" fill="#089981"/><rect x="504.86" y="135.00" width="0.85" height="28.75" fill="#f23645"/><rect x="503.79" y="139.00" width="3.0" height="24.75" fill="#f23645"/><rect x="508.61" y="156.88" width="0.85" height="14.62" fill="#f23645"/><rect x="507.53" y="160.62" width="3.0" height="10.00" fill="#f23645"/><rect x="512.36" y="183.75" width="0.85" height="13.75" fill="#089981"/><rect x="511.28" y="193.75" width="3.0" height="2.50" fill="#089981"/><rect x="516.10" y="212.25" width="0.85" height="20.00" fill="#f23645"/><rect x="515.03" y="224.12" width="3.0" height="4.12" fill="#f23645"/><rect x="519.85" y="231.00" width="0.85" height="18.12" fill="#f23645"/><rect x="518.77" y="241.19" width="3.0" height="1.00" fill="#f23645"/><rect x="523.60" y="222.88" width="0.85" height="14.38" fill="#089981"/><rect x="522.52" y="231.00" width="3.0" height="1.25" fill="#089981"/><rect x="527.34" y="228.25" width="0.85" height="9.62" fill="#f23645"/><rect x="526.27" y="235.38" width="3.0" height="2.50" fill="#f23645"/><rect x="531.09" y="208.25" width="0.85" height="18.75" fill="#089981"/><rect x="530.01" y="210.00" width="3.0" height="12.88" fill="#089981"/><rect x="534.84" y="196.25" width="0.85" height="12.12" fill="#f23645"/><rect x="533.76" y="200.88" width="3.0" height="6.38" fill="#f23645"/><rect x="538.58" y="197.25" width="0.85" height="8.38" fill="#089981"/><rect x="537.51" y="202.25" width="3.0" height="2.38" fill="#089981"/><rect x="542.33" y="199.00" width="0.85" height="16.00" fill="#089981"/><rect x="541.25" y="199.38" width="3.0" height="7.50" fill="#089981"/><rect x="546.07" y="187.12" width="0.85" height="15.38" fill="#f23645"/><rect x="545.00" y="191.00" width="3.0" height="10.25" fill="#f23645"/><rect x="549.82" y="185.62" width="0.85" height="10.38" fill="#089981"/><rect x="548.75" y="190.62" width="3.0" height="2.25" fill="#089981"/><rect x="553.57" y="189.62" width="0.85" height="14.38" fill="#f23645"/><rect x="552.49" y="191.88" width="3.0" height="12.12" fill="#f23645"/><rect x="557.31" y="199.12" width="0.85" height="10.62" fill="#f23645"/><rect x="556.24" y="204.00" width="3.0" height="4.75" fill="#f23645"/><rect x="561.06" y="201.25" width="0.85" height="13.75" fill="#089981"/><rect x="559.99" y="205.00" width="3.0" height="3.75" fill="#089981"/><rect x="564.81" y="197.50" width="0.85" height="11.88" fill="#089981"/><rect x="563.73" y="202.12" width="3.0" height="2.25" fill="#089981"/><rect x="568.55" y="175.00" width="0.85" height="21.88" fill="#089981"/><rect x="567.48" y="182.88" width="3.0" height="11.75" fill="#089981"/><rect x="572.30" y="175.88" width="0.85" height="17.00" fill="#089981"/><rect x="571.23" y="181.88" width="3.0" height="1.00" fill="#089981"/><rect x="576.05" y="169.38" width="0.85" height="26.88" fill="#f23645"/><rect x="574.97" y="175.00" width="3.0" height="21.25" fill="#f23645"/><rect x="579.79" y="186.25" width="0.85" height="13.50" fill="#089981"/><rect x="578.72" y="188.50" width="3.0" height="7.50" fill="#089981"/><rect x="583.54" y="177.25" width="0.85" height="8.12" fill="#089981"/><rect x="582.46" y="181.25" width="3.0" height="4.12" fill="#089981"/><rect x="587.29" y="169.75" width="0.85" height="10.25" fill="#089981"/><rect x="586.21" y="171.00" width="3.0" height="9.00" fill="#089981"/><rect x="591.03" y="129.62" width="0.85" height="54.75" fill="#089981"/><rect x="589.96" y="139.25" width="3.0" height="28.88" fill="#089981"/><rect x="594.78" y="133.75" width="0.85" height="35.88" fill="#089981"/><rect x="593.70" y="133.75" width="3.0" height="10.88" fill="#089981"/><rect x="598.53" y="123.00" width="0.85" height="22.88" fill="#089981"/><rect x="597.45" y="125.00" width="3.0" height="8.75" fill="#089981"/><rect x="602.27" y="128.38" width="0.85" height="13.12" fill="#089981"/><rect x="601.20" y="132.75" width="3.0" height="8.75" fill="#089981"/><rect x="606.02" y="122.12" width="0.85" height="35.62" fill="#f23645"/><rect x="604.94" y="126.12" width="3.0" height="28.50" fill="#f23645"/><rect x="609.77" y="139.00" width="0.85" height="14.75" fill="#f23645"/><rect x="608.69" y="147.12" width="3.0" height="2.75" fill="#f23645"/><rect x="613.51" y="131.12" width="0.85" height="23.50" fill="#f23645"/><rect x="612.44" y="139.00" width="3.0" height="15.62" fill="#f23645"/><rect x="617.26" y="135.00" width="0.85" height="23.62" fill="#089981"/><rect x="616.18" y="137.75" width="3.0" height="17.12" fill="#089981"/><rect x="621.00" y="129.00" width="0.85" height="13.75" fill="#f23645"/><rect x="619.93" y="131.12" width="3.0" height="11.62" fill="#f23645"/><rect x="624.75" y="123.00" width="0.85" height="16.62" fill="#089981"/><rect x="623.68" y="128.38" width="3.0" height="5.62" fill="#089981"/><rect x="628.50" y="125.88" width="0.85" height="12.50" fill="#089981"/><rect x="627.42" y="128.38" width="3.0" height="10.00" fill="#089981"/><rect x="632.24" y="121.50" width="0.85" height="11.88" fill="#089981"/><rect x="631.17" y="123.00" width="3.0" height="5.62" fill="#089981"/><rect x="635.99" y="121.50" width="0.85" height="20.00" fill="#f23645"/><rect x="634.92" y="124.38" width="3.0" height="17.12" fill="#f23645"/><rect x="639.74" y="126.88" width="0.85" height="13.75" fill="#089981"/><rect x="638.66" y="126.88" width="3.0" height="11.00" fill="#089981"/><rect x="643.48" y="105.62" width="0.85" height="19.00" fill="#f23645"/><rect x="642.41" y="117.75" width="3.0" height="6.88" fill="#f23645"/><rect x="647.23" y="116.00" width="0.85" height="17.50" fill="#089981"/><rect x="646.15" y="120.62" width="3.0" height="12.88" fill="#089981"/><rect x="650.98" y="147.25" width="0.85" height="22.25" fill="#f23645"/><rect x="649.90" y="151.88" width="3.0" height="17.62" fill="#f23645"/><rect x="654.72" y="157.50" width="0.85" height="11.62" fill="#089981"/><rect x="653.65" y="157.88" width="3.0" height="6.88" fill="#089981"/><rect x="658.47" y="145.88" width="0.85" height="10.38" fill="#089981"/><rect x="657.39" y="154.38" width="3.0" height="1.00" fill="#089981"/><rect x="662.22" y="130.00" width="0.85" height="14.75" fill="#089981"/><rect x="661.14" y="136.88" width="3.0" height="6.00" fill="#089981"/><rect x="665.96" y="132.25" width="0.85" height="13.38" fill="#f23645"/><rect x="664.89" y="134.00" width="3.0" height="11.62" fill="#f23645"/><rect x="669.71" y="125.62" width="0.85" height="14.12" fill="#089981"/><rect x="668.63" y="125.88" width="3.0" height="13.88" fill="#089981"/><rect x="673.46" y="113.50" width="0.85" height="12.38" fill="#089981"/><rect x="672.38" y="118.12" width="3.0" height="7.75" fill="#089981"/><rect x="677.20" y="111.25" width="0.85" height="21.00" fill="#f23645"/><rect x="676.13" y="112.25" width="3.0" height="20.00" fill="#f23645"/><rect x="680.95" y="133.12" width="0.85" height="13.75" fill="#f23645"/><rect x="679.87" y="136.00" width="3.0" height="10.88" fill="#f23645"/><rect x="684.70" y="135.00" width="0.85" height="13.75" fill="#f23645"/><rect x="683.62" y="135.25" width="3.0" height="11.62" fill="#f23645"/><rect x="688.44" y="131.25" width="0.85" height="12.50" fill="#f23645"/><rect x="687.37" y="134.00" width="3.0" height="9.75" fill="#f23645"/><rect x="692.19" y="132.25" width="0.85" height="11.50" fill="#f23645"/><rect x="691.11" y="132.50" width="3.0" height="11.25" fill="#f23645"/><rect x="695.93" y="138.12" width="0.85" height="12.50" fill="#089981"/><rect x="694.86" y="145.00" width="3.0" height="5.62" fill="#089981"/><rect x="699.68" y="141.88" width="0.85" height="9.62" fill="#f23645"/><rect x="698.61" y="143.75" width="3.0" height="7.75" fill="#f23645"/><rect x="703.43" y="140.62" width="0.85" height="9.38" fill="#f23645"/><rect x="702.35" y="140.88" width="3.0" height="1.00" fill="#f23645"/><rect x="707.17" y="134.38" width="0.85" height="7.50" fill="#f23645"/><rect x="706.10" y="134.75" width="3.0" height="7.12" fill="#f23645"/><rect x="710.92" y="147.25" width="0.85" height="17.75" fill="#089981"/><rect x="709.85" y="153.75" width="3.0" height="4.12" fill="#089981"/><rect x="714.67" y="152.50" width="0.85" height="13.12" fill="#f23645"/><rect x="713.59" y="153.12" width="3.0" height="12.50" fill="#f23645"/><rect x="718.41" y="149.75" width="0.85" height="15.25" fill="#f23645"/><rect x="717.34" y="152.50" width="3.0" height="8.50" fill="#f23645"/><rect x="722.16" y="153.12" width="0.85" height="10.62" fill="#089981"/><rect x="721.09" y="154.75" width="3.0" height="9.00" fill="#089981"/><rect x="725.91" y="151.25" width="0.85" height="19.12" fill="#089981"/><rect x="724.83" y="155.38" width="3.0" height="11.62" fill="#089981"/><rect x="729.65" y="165.00" width="0.85" height="15.75" fill="#f23645"/><rect x="728.58" y="167.00" width="3.0" height="13.75" fill="#f23645"/><rect x="733.40" y="172.88" width="0.85" height="11.62" fill="#089981"/><rect x="732.32" y="176.00" width="3.0" height="6.00" fill="#089981"/><rect x="737.15" y="161.62" width="0.85" height="13.38" fill="#f23645"/><rect x="736.07" y="164.50" width="3.0" height="10.50" fill="#f23645"/><rect x="740.89" y="167.25" width="0.85" height="13.12" fill="#089981"/><rect x="739.82" y="171.00" width="3.0" height="6.50" fill="#089981"/><rect x="744.64" y="164.12" width="0.85" height="10.38" fill="#089981"/><rect x="743.56" y="168.25" width="3.0" height="5.25" fill="#089981"/><rect x="748.39" y="156.25" width="0.85" height="18.75" fill="#089981"/><rect x="747.31" y="158.12" width="3.0" height="16.88" fill="#089981"/><rect x="752.13" y="166.00" width="0.85" height="12.12" fill="#f23645"/><rect x="751.06" y="168.50" width="3.0" height="1.88" fill="#f23645"/><rect x="755.88" y="168.50" width="0.85" height="13.75" fill="#089981"/><rect x="754.80" y="172.25" width="3.0" height="2.75" fill="#089981"/><rect x="759.63" y="167.25" width="0.85" height="14.38" fill="#089981"/><rect x="758.55" y="171.00" width="3.0" height="10.62" fill="#089981"/><rect x="763.37" y="151.00" width="0.85" height="12.75" fill="#f23645"/><rect x="762.30" y="151.25" width="3.0" height="5.00" fill="#f23645"/><rect x="767.12" y="147.25" width="0.85" height="9.62" fill="#f23645"/><rect x="766.04" y="148.12" width="3.0" height="8.75" fill="#f23645"/><rect x="770.86" y="169.38" width="0.85" height="16.25" fill="#089981"/><rect x="769.79" y="174.12" width="3.0" height="1.62" fill="#089981"/><rect x="774.61" y="168.12" width="0.85" height="19.75" fill="#089981"/><rect x="773.54" y="170.00" width="3.0" height="11.62" fill="#089981"/><rect x="778.36" y="171.25" width="0.85" height="15.75" fill="#089981"/><rect x="777.28" y="178.88" width="3.0" height="5.88" fill="#089981"/><rect x="782.10" y="174.38" width="0.85" height="21.38" fill="#089981"/><rect x="781.03" y="180.62" width="3.0" height="2.00" fill="#089981"/><rect x="785.85" y="170.62" width="0.85" height="10.12" fill="#089981"/><rect x="784.78" y="173.12" width="3.0" height="1.62" fill="#089981"/><rect x="789.60" y="141.25" width="0.85" height="31.00" fill="#f23645"/><rect x="788.52" y="141.25" width="3.0" height="31.00" fill="#f23645"/><rect x="793.34" y="153.50" width="0.85" height="17.12" fill="#089981"/><rect x="792.27" y="154.75" width="3.0" height="4.25" fill="#089981"/><rect x="797.09" y="130.00" width="0.85" height="25.00" fill="#089981"/><rect x="796.01" y="134.00" width="3.0" height="12.88" fill="#089981"/><rect x="800.84" y="114.62" width="0.85" height="14.75" fill="#f23645"/><rect x="799.76" y="120.00" width="3.0" height="1.25" fill="#f23645"/><rect x="804.58" y="101.50" width="0.85" height="27.25" fill="#089981"/><rect x="803.51" y="101.88" width="3.0" height="21.25" fill="#089981"/><rect x="808.33" y="73.75" width="0.85" height="29.38" fill="#f23645"/><rect x="807.25" y="79.00" width="3.0" height="18.50" fill="#f23645"/><rect x="812.08" y="93.75" width="0.85" height="13.12" fill="#089981"/><rect x="811.00" y="95.00" width="3.0" height="7.88" fill="#089981"/><rect x="815.82" y="86.00" width="0.85" height="18.00" fill="#f23645"/><rect x="814.75" y="88.12" width="3.0" height="9.38" fill="#f23645"/><rect x="819.57" y="73.50" width="0.85" height="19.62" fill="#089981"/><rect x="818.49" y="80.00" width="3.0" height="4.75" fill="#089981"/><rect x="823.32" y="68.12" width="0.85" height="81.62" fill="#f23645"/><rect x="822.24" y="79.00" width="3.0" height="70.75" fill="#f23645"/><rect x="827.06" y="132.25" width="0.85" height="26.75" fill="#089981"/><rect x="825.99" y="145.00" width="3.0" height="7.88" fill="#089981"/><rect x="830.81" y="126.00" width="0.85" height="15.25" fill="#089981"/><rect x="829.73" y="126.25" width="3.0" height="12.50" fill="#089981"/><rect x="834.56" y="106.88" width="0.85" height="22.50" fill="#089981"/><rect x="833.48" y="111.88" width="3.0" height="7.88" fill="#089981"/><rect x="838.30" y="121.00" width="0.85" height="19.62" fill="#f23645"/><rect x="837.23" y="123.12" width="3.0" height="12.75" fill="#f23645"/><rect x="842.05" y="110.00" width="0.85" height="19.38" fill="#f23645"/><rect x="840.97" y="112.50" width="3.0" height="10.00" fill="#f23645"/><rect x="845.79" y="100.62" width="0.85" height="16.25" fill="#089981"/><rect x="844.72" y="104.94" width="3.0" height="1.00" fill="#089981"/><rect x="849.54" y="92.50" width="0.85" height="14.38" fill="#f23645"/><rect x="848.47" y="98.12" width="3.0" height="1.88" fill="#f23645"/><rect x="853.29" y="85.62" width="0.85" height="24.38" fill="#089981"/><rect x="852.21" y="85.88" width="3.0" height="13.88" fill="#089981"/><rect x="857.03" y="100.25" width="0.85" height="20.38" fill="#089981"/><rect x="855.96" y="113.06" width="3.0" height="1.00" fill="#089981"/><rect x="860.78" y="110.62" width="0.85" height="40.00" fill="#f23645"/><rect x="859.71" y="115.00" width="3.0" height="32.75" fill="#f23645"/><rect x="864.53" y="162.50" width="0.85" height="17.88" fill="#f23645"/><rect x="863.45" y="162.88" width="3.0" height="10.88" fill="#f23645"/><rect x="868.27" y="148.12" width="0.85" height="30.25" fill="#f23645"/><rect x="867.20" y="151.00" width="3.0" height="23.62" fill="#f23645"/><rect x="872.02" y="175.75" width="0.85" height="15.25" fill="#089981"/><rect x="870.95" y="176.00" width="3.0" height="8.12" fill="#089981"/><rect x="875.77" y="197.88" width="0.85" height="26.88" fill="#089981"/><rect x="874.69" y="202.25" width="3.0" height="13.50" fill="#089981"/><rect x="879.51" y="179.38" width="0.85" height="17.25" fill="#f23645"/><rect x="878.44" y="187.25" width="3.0" height="6.50" fill="#f23645"/><rect x="883.26" y="175.12" width="0.85" height="15.62" fill="#089981"/><rect x="882.18" y="185.12" width="3.0" height="4.38" fill="#089981"/><rect x="887.01" y="183.12" width="0.85" height="19.50" fill="#f23645"/><rect x="885.93" y="183.50" width="3.0" height="9.12" fill="#f23645"/><rect x="890.75" y="196.38" width="0.85" height="15.25" fill="#f23645"/><rect x="889.68" y="209.50" width="3.0" height="2.12" fill="#f23645"/><rect x="894.50" y="219.00" width="0.85" height="14.50" fill="#089981"/><rect x="893.42" y="224.38" width="3.0" height="6.25" fill="#089981"/><rect x="898.25" y="221.88" width="0.85" height="7.88" fill="#f23645"/><rect x="897.17" y="225.00" width="3.0" height="4.75" fill="#f23645"/><rect x="901.99" y="210.00" width="0.85" height="17.12" fill="#089981"/><rect x="900.92" y="210.00" width="3.0" height="17.12" fill="#089981"/><rect x="905.74" y="223.12" width="0.85" height="13.75" fill="#f23645"/><rect x="904.66" y="228.12" width="3.0" height="5.25" fill="#f23645"/><rect x="909.49" y="240.00" width="0.85" height="14.38" fill="#089981"/><rect x="908.41" y="240.00" width="3.0" height="5.38" fill="#089981"/><rect x="913.23" y="220.00" width="0.85" height="12.50" fill="#f23645"/><rect x="912.16" y="220.38" width="3.0" height="8.75" fill="#f23645"/><rect x="916.98" y="204.00" width="0.85" height="13.75" fill="#f23645"/><rect x="915.90" y="209.00" width="3.0" height="4.75" fill="#f23645"/><rect x="920.72" y="211.25" width="0.85" height="13.50" fill="#f23645"/><rect x="919.65" y="211.50" width="3.0" height="7.50" fill="#f23645"/><rect x="924.47" y="211.00" width="0.85" height="14.62" fill="#089981"/><rect x="923.40" y="217.75" width="3.0" height="7.88" fill="#089981"/></g>
<path d="M9 218.01H964" stroke="#089981" stroke-opacity="0.3" stroke-width="1" stroke-dasharray="1.1 1.1" fill="none"/>
<g font-size="10.5" fill="#131722"><text x="9.00" y="17.20" textLength="5.20" lengthAdjust="spacingAndGlyphs" stroke="#131722" font-size="10.7">3</text><text x="13.90" y="17.20">月</text><text x="27.75" y="17.20" textLength="12.70" lengthAdjust="spacingAndGlyphs" stroke="#131722" font-size="10.7">29,</text><text x="45.30" y="17.20" textLength="20.60" lengthAdjust="spacingAndGlyphs" stroke="#131722" font-size="10.7">2026</text><text x="70.00" y="17.20" textLength="24.40" lengthAdjust="spacingAndGlyphs" stroke="#131722" font-size="10.7">10:38</text><text x="98.75" y="17.20" textLength="27.90" lengthAdjust="spacingAndGlyphs" stroke="#131722" font-size="10.7">UTC+9</text><text x="126.60" y="17.20">、</text><text x="137.90" y="17.20" textLength="77.50" lengthAdjust="spacingAndGlyphs" stroke="#131722" font-size="10.7">TradingView.com</text><text x="215.80" y="17.20" textLength="30.20" lengthAdjust="spacingAndGlyphs">で作成</text></g>
<g font-size="10.1" fill="#131722"><text x="16.50" y="39.90" textLength="60.50" lengthAdjust="spacingAndGlyphs">ブリヂストン</text><text x="80.30" y="39.90" font-weight="bold" font-size="10">·</text><text x="87.00" y="39.90" textLength="4.60" lengthAdjust="spacingAndGlyphs" stroke="#131722" font-size="9.8">1</text><text x="91.60" y="39.90">日</text><text x="105.30" y="39.90" font-weight="bold" font-size="10">·</text><text x="113.00" y="39.90" textLength="15.00" lengthAdjust="spacingAndGlyphs" stroke="#131722" font-size="9.8">TSE</text><text x="135.75" y="39.90" textLength="20.00" lengthAdjust="spacingAndGlyphs">始値</text><text x="156.30" y="39.90" textLength="24.20" lengthAdjust="spacingAndGlyphs" fill="#089981" stroke="#089981" font-size="9.8">3,300</text><text x="188.00" y="39.90" textLength="20.00" lengthAdjust="spacingAndGlyphs">高値</text><text x="208.75" y="39.90" textLength="23.75" lengthAdjust="spacingAndGlyphs" fill="#089981" stroke="#089981" font-size="9.8">3,351</text><text x="240.00" y="39.90" textLength="20.00" lengthAdjust="spacingAndGlyphs">安値</text><text x="260.75" y="39.90" textLength="24.25" lengthAdjust="spacingAndGlyphs" fill="#089981" stroke="#089981" font-size="9.8">3,300</text><text x="292.00" y="39.90" textLength="20.00" lengthAdjust="spacingAndGlyphs">終値</text><text x="312.50" y="39.90" textLength="24.50" lengthAdjust="spacingAndGlyphs" fill="#089981" stroke="#089981" font-size="9.8">3,326</text><text x="344.25" y="39.90" textLength="10.00" lengthAdjust="spacingAndGlyphs" fill="#089981" stroke="#089981" font-size="9.8">+3</text><text x="357.50" y="39.90" textLength="39.25" lengthAdjust="spacingAndGlyphs" fill="#089981" stroke="#089981" font-size="9.8">(+0.09%)</text><text x="16.50" y="54.30" textLength="29.80" lengthAdjust="spacingAndGlyphs">出来高</text><text x="53.00" y="54.30" textLength="28.25" lengthAdjust="spacingAndGlyphs" fill="#22ab94" stroke="#22ab94" font-size="9.8">3.91 M</text></g>
<g font-size="9.8" fill="#131722" stroke="#131722"><text x="972" y="284.44" textLength="25" lengthAdjust="spacingAndGlyphs">3,100</text><text x="972" y="256.33" textLength="25" lengthAdjust="spacingAndGlyphs">3,200</text><text x="972" y="228.22" textLength="25" lengthAdjust="spacingAndGlyphs">3,300</text><text x="972" y="200.11" textLength="25" lengthAdjust="spacingAndGlyphs">3,400</text><text x="972" y="172.00" textLength="25" lengthAdjust="spacingAndGlyphs">3,500</text><text x="972" y="143.89" textLength="25" lengthAdjust="spacingAndGlyphs">3,600</text><text x="972" y="115.78" textLength="25" lengthAdjust="spacingAndGlyphs">3,700</text><text x="972" y="87.67" textLength="25" lengthAdjust="spacingAndGlyphs">3,800</text><text x="972" y="59.56" textLength="25" lengthAdjust="spacingAndGlyphs">3,900</text><text x="972" y="31.45" textLength="25" lengthAdjust="spacingAndGlyphs">4,000</text><text x="972" y="453.10" textLength="33.8" lengthAdjust="spacingAndGlyphs">2,500.0</text><text x="972" y="424.99" textLength="33.8" lengthAdjust="spacingAndGlyphs">2,600.0</text><text x="972" y="396.88" textLength="33.8" lengthAdjust="spacingAndGlyphs">2,700.0</text><text x="972" y="368.77" textLength="33.8" lengthAdjust="spacingAndGlyphs">2,800.0</text><text x="972" y="340.66" textLength="33.8" lengthAdjust="spacingAndGlyphs">2,900.0</text><text x="972" y="312.55" textLength="33.8" lengthAdjust="spacingAndGlyphs">3,000.0</text></g>
<g font-size="10.2" fill="#131722" stroke="#131722"><text x="21.60" y="486.4" text-anchor="middle">4<tspan stroke="none">月</tspan></text><text x="100.25" y="486.4" text-anchor="middle">5<tspan stroke="none">月</tspan></text><text x="175.00" y="486.4" text-anchor="middle">6<tspan stroke="none">月</tspan></text><text x="254.10" y="486.4" text-anchor="middle">7<tspan stroke="none">月</tspan></text><text x="336.00" y="486.4" text-anchor="middle">8<tspan stroke="none">月</tspan></text><text x="411.20" y="486.4" text-anchor="middle">9<tspan stroke="none">月</tspan></text><text x="486.00" y="486.4" text-anchor="middle">10<tspan stroke="none">月</tspan></text><text x="568.60" y="486.4" text-anchor="middle">11<tspan stroke="none">月</tspan></text><text x="636.40" y="486.4" text-anchor="middle">12<tspan stroke="none">月</tspan></text><text x="718.70" y="486.4" text-anchor="middle" font-weight="bold" stroke="none">2026</text><text x="789.50" y="486.4" text-anchor="middle">2<tspan stroke="none">月</tspan></text><text x="857.10" y="486.4" text-anchor="middle">3<tspan stroke="none">月</tspan></text><text x="935.25" y="486.4" text-anchor="middle">4<tspan stroke="none">月</tspan></text></g>
<rect x="964.7" y="210" width="37.1" height="15.6" rx="1.5" fill="#089981"/>
<text x="972.3" y="221.1" font-size="10.4" font-weight="bold" fill="#fff" textLength="24.8" lengthAdjust="spacingAndGlyphs">3,326</text>
<rect x="964.6" y="431.7" width="40.6" height="15.1" rx="1.5" fill="#26a69a"/>
<text x="972.2" y="442.6" font-size="10.4" font-weight="bold" fill="#fff" textLength="28" lengthAdjust="spacingAndGlyphs">3.91 M</text>
<g fill="#131722">
<path d="M10.2 513.3h10.2v12.5h-5.1v-7.4h-5.1z"/>
<circle cx="24.5" cy="515.9" r="2.1"/>
<path d="M29 513.3h6.2l-5.3 12.5h-5.6z"/>
<text x="42.2" y="525.8" font-size="16.8" stroke="#131722" style="stroke-width:0.7px" textLength="102" lengthAdjust="spacingAndGlyphs">TradingView</text>
</g>
</svg>
</body></html>
